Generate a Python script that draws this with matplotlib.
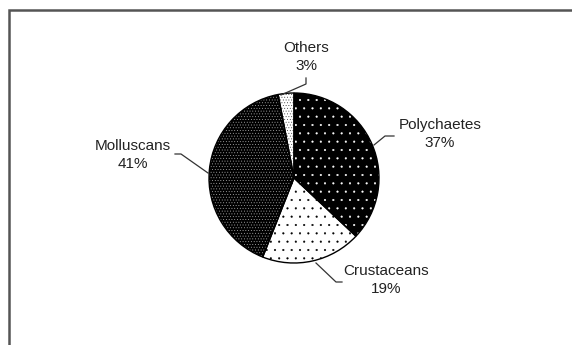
import matplotlib
matplotlib.use("Agg")
import matplotlib.pyplot as plt
from matplotlib.patches import Rectangle

plt.rcParams["hatch.linewidth"] = 0.3

# Share of macrobenthic groups (%)
GROUPS = ["Polychaetes", "Crustaceans", "Molluscans", "Others"]
SHARES = [37, 19, 41, 3]

W, H = 572, 345
FACE = ["black", "white", "black", "white"]
DOTS = ["white", "black", "#b0b0b0", "#333333"]
HATCH = ["..", "..", "......", "......"]

# label centres and leader polylines, in image pixels (x right, y down)
LABEL_POS = {
    "Polychaetes": (440, 134),
    "Crustaceans": (386, 280),
    "Molluscans": (133, 155),
    "Others": (306, 57),
}
LEADERS = {
    "Polychaetes": [(374, 145), (385, 136), (394, 136)],
    "Crustaceans": [(316, 263), (336, 282), (342, 282)],
    "Molluscans": [(175, 154), (181, 154), (208, 173)],
    "Others": [(306, 78), (306, 84), (281, 95)],
}
CENTER = (294, 178)
RADIUS = 85


def fy(py):
    return H - py


fig = plt.figure(figsize=(W / 100, H / 100), dpi=100)
ax = fig.add_axes([0, 0, 1, 1])

center = (CENTER[0], fy(CENTER[1]))

# hatched fills (hatch colour follows edgecolor)
wedges, _ = ax.pie(SHARES, startangle=90, counterclock=False,
                   center=center, radius=RADIUS, frame=True,
                   wedgeprops=dict(linewidth=0))
for w, fc, hc, h in zip(wedges, FACE, DOTS, HATCH):
    w.set_facecolor(fc)
    w.set_edgecolor(hc)
    w.set_hatch(h)

# black outlines
ax.pie(SHARES, startangle=90, counterclock=False, center=center,
       radius=RADIUS, frame=True,
       wedgeprops=dict(fill=False, edgecolor="black", linewidth=1.0))
ax.set_xlim(0, W)
ax.set_ylim(0, H)
ax.axis("off")

for name, share in zip(GROUPS, SHARES):
    x, y = LABEL_POS[name]
    ax.text(x, fy(y), f"{name}\n{share}%", ha="center", va="center",
            fontsize=11, family="Liberation Sans", color="#222222",
            linespacing=1.3)
    pts = LEADERS[name]
    ax.plot([p[0] for p in pts], [fy(p[1]) for p in pts],
            color="#333333", lw=0.9)

# outer frame
fig.patches.append(Rectangle((9 / W, -0.1), 1.0, fy(10) / H + 0.1,
                             transform=fig.transFigure, fill=False,
                             edgecolor="#555555", linewidth=1.8))

fig.savefig("out.png", dpi=100)
